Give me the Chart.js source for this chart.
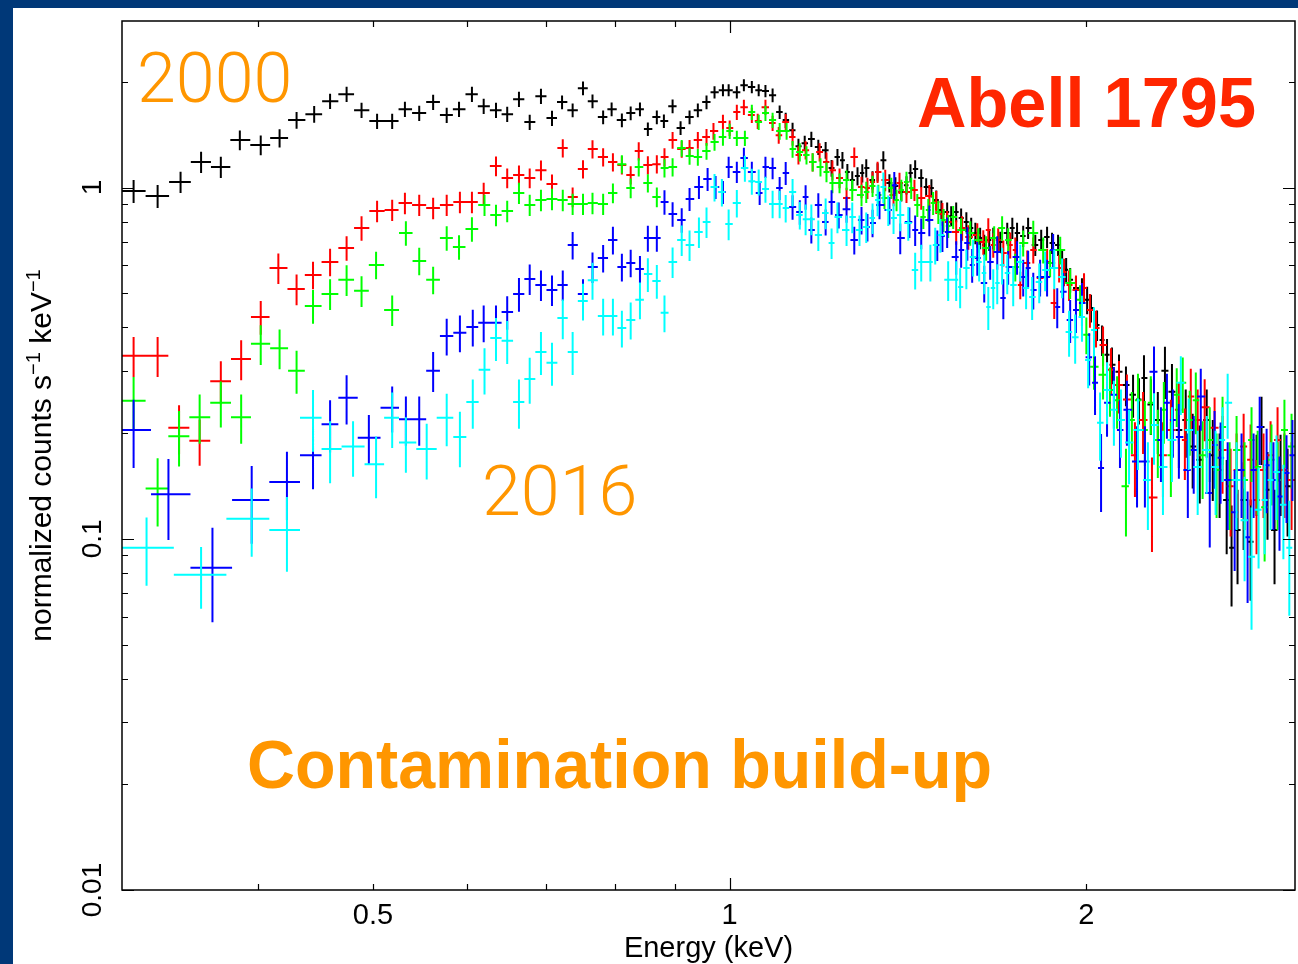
<!DOCTYPE html>
<html>
<head>
<meta charset="utf-8">
<title>Abell 1795 spectra</title>
<style>
  html, body { margin: 0; padding: 0; background: #003878; overflow: hidden; }
  canvas { display: block; }
</style>
<script src="https://cdn.jsdelivr.net/npm/chart.js@4.4.1/dist/chart.umd.min.js"></script>
</head>
<body>
<canvas id="spec" width="1298" height="964"></canvas>
<script>
// Spectra rows: [energy keV, normalized counts s^-1 keV^-1, relative 1-sigma error]
const blackSpec = [
  [0.314, 0.977, 0.075], [0.329, 0.946, 0.075], [0.344, 1.037, 0.07], [0.358, 1.182, 0.07], [0.372, 1.144, 0.07],
  [0.386, 1.365, 0.065], [0.402, 1.321, 0.065], [0.417, 1.383, 0.06], [0.431, 1.556, 0.055], [0.446, 1.618, 0.055],
  [0.460, 1.762, 0.05], [0.475, 1.845, 0.05], [0.489, 1.661, 0.05], [0.504, 1.546, 0.05], [0.519, 1.546, 0.05],
  [0.532, 1.672, 0.05], [0.547, 1.629, 0.05], [0.562, 1.751, 0.05], [0.577, 1.608, 0.05], [0.591, 1.672, 0.05],
  [0.606, 1.845, 0.05], [0.620, 1.705, 0.05], [0.635, 1.661, 0.05], [0.649, 1.618, 0.05], [0.664, 1.785, 0.05],
  [0.678, 1.536, 0.05], [0.693, 1.821, 0.05], [0.708, 1.577, 0.05], [0.722, 1.751, 0.045], [0.737, 1.661, 0.045],
  [0.752, 1.919, 0.045], [0.766, 1.762, 0.045], [0.782, 1.587, 0.045], [0.795, 1.672, 0.045], [0.811, 1.556, 0.045],
  [0.825, 1.629, 0.045], [0.840, 1.672, 0.045], [0.853, 1.467, 0.045], [0.868, 1.587, 0.045], [0.880, 1.546, 0.045],
  [0.895, 1.705, 0.045], [0.909, 1.477, 0.045], [0.925, 1.587, 0.045], [0.940, 1.661, 0.045], [0.956, 1.751, 0.045],
  [0.971, 1.869, 0.04], [0.987, 1.894, 0.04], [0.998, 1.894, 0.04], [1.014, 1.869, 0.04], [1.028, 1.957, 0.04],
  [1.044, 1.932, 0.04], [1.058, 1.894, 0.04], [1.072, 1.882, 0.04], [1.087, 1.833, 0.045], [1.102, 1.640, 0.045],
  [1.115, 1.556, 0.05], [1.130, 1.457, 0.05], [1.143, 1.312, 0.05], [1.157, 1.338, 0.05], [1.172, 1.374, 0.05],
  [1.188, 1.304, 0.05], [1.205, 1.278, 0.055], [1.219, 1.136, 0.055], [1.233, 1.221, 0.055], [1.245, 1.197, 0.055],
  [1.257, 1.107, 0.055], [1.269, 1.050, 0.06], [1.282, 1.078, 0.06], [1.294, 1.100, 0.06], [1.304, 1.136, 0.06],
  [1.320, 1.050, 0.06], [1.333, 1.107, 0.06], [1.348, 1.197, 0.06], [1.364, 1.030, 0.06], [1.380, 1.010, 0.06],
  [1.396, 0.971, 0.06], [1.410, 1.016, 0.06], [1.421, 1.100, 0.06], [1.434, 1.129, 0.06], [1.451, 1.064, 0.06],
  [1.465, 1.003, 0.06], [1.480, 0.997, 0.06], [1.494, 0.921, 0.065], [1.509, 0.863, 0.065], [1.526, 0.852, 0.065],
  [1.538, 0.830, 0.065], [1.553, 0.852, 0.065], [1.568, 0.819, 0.065], [1.584, 0.798, 0.065], [1.599, 0.767, 0.07],
  [1.612, 0.742, 0.07], [1.627, 0.718, 0.07], [1.640, 0.686, 0.07], [1.656, 0.709, 0.07], [1.669, 0.718, 0.07],
  [1.692, 0.700, 0.07], [1.715, 0.742, 0.07], [1.732, 0.767, 0.07], [1.748, 0.742, 0.07], [1.769, 0.728, 0.07],
  [1.786, 0.767, 0.07], [1.811, 0.686, 0.07], [1.832, 0.709, 0.07], [1.853, 0.723, 0.07], [1.871, 0.695, 0.07],
  [1.893, 0.686, 0.07], [1.908, 0.614, 0.08], [1.923, 0.583, 0.08], [1.938, 0.546, 0.08], [1.960, 0.518, 0.08],
  [1.983, 0.511, 0.08], [2.003, 0.479, 0.09], [2.018, 0.454, 0.09], [2.042, 0.406, 0.1], [2.062, 0.368, 0.1],
  [2.082, 0.334, 0.11], [2.102, 0.313, 0.12], [2.131, 0.299, 0.12], [2.160, 0.274, 0.13], [2.190, 0.257, 0.14],
  [2.215, 0.249, 0.15], [2.237, 0.287, 0.16], [2.267, 0.241, 0.18], [2.298, 0.218, 0.2], [2.330, 0.301, 0.17],
  [2.362, 0.262, 0.2], [2.394, 0.204, 0.22], [2.426, 0.218, 0.22], [2.459, 0.183, 0.24], [2.493, 0.168, 0.25],
  [2.527, 0.218, 0.22], [2.557, 0.173, 0.26], [2.591, 0.157, 0.27], [2.627, 0.129, 0.3], [2.652, 0.0943, 0.32],
  [2.683, 0.106, 0.3], [2.715, 0.129, 0.28], [2.752, 0.098, 0.32], [2.784, 0.157, 0.26], [2.811, 0.208, 0.22],
  [2.844, 0.138, 0.28], [2.883, 0.106, 0.3], [2.917, 0.157, 0.26], [2.957, 0.141, 0.28]
];

const redSpec = [
  [0.314, 0.332, 0.13], [0.329, 0.332, 0.13], [0.343, 0.207, 0.16], [0.357, 0.190, 0.15], [0.372, 0.281, 0.14],
  [0.387, 0.325, 0.13], [0.402, 0.428, 0.11], [0.416, 0.590, 0.1], [0.431, 0.514, 0.1], [0.445, 0.564, 0.09],
  [0.460, 0.614, 0.09], [0.475, 0.673, 0.08], [0.489, 0.767, 0.08], [0.504, 0.857, 0.07], [0.519, 0.863, 0.07],
  [0.532, 0.903, 0.07], [0.547, 0.892, 0.07], [0.562, 0.874, 0.07], [0.577, 0.892, 0.07], [0.592, 0.909, 0.07],
  [0.606, 0.909, 0.07], [0.620, 0.965, 0.07], [0.635, 1.151, 0.065], [0.649, 1.064, 0.065], [0.664, 1.085, 0.065],
  [0.678, 1.064, 0.065], [0.693, 1.121, 0.065], [0.708, 1.023, 0.065], [0.723, 1.295, 0.06], [0.737, 0.940, 0.065],
  [0.752, 1.129, 0.06], [0.766, 1.287, 0.06], [0.782, 1.221, 0.06], [0.797, 1.182, 0.06], [0.811, 1.159, 0.06],
  [0.825, 1.085, 0.06], [0.838, 1.270, 0.06], [0.853, 1.159, 0.06], [0.868, 1.166, 0.06], [0.881, 1.221, 0.06],
  [0.895, 1.365, 0.055], [0.911, 1.287, 0.055], [0.925, 1.295, 0.055], [0.940, 1.365, 0.055], [0.956, 1.392, 0.055],
  [0.969, 1.448, 0.055], [0.987, 1.536, 0.05], [1.000, 1.477, 0.05], [1.014, 1.640, 0.05], [1.028, 1.694, 0.05],
  [1.044, 1.608, 0.05], [1.056, 1.546, 0.05], [1.072, 1.694, 0.05], [1.087, 1.526, 0.05], [1.100, 1.410, 0.055],
  [1.115, 1.536, 0.055], [1.130, 1.392, 0.055], [1.143, 1.237, 0.06], [1.159, 1.278, 0.06], [1.175, 1.182, 0.06],
  [1.191, 1.262, 0.06], [1.207, 1.182, 0.065], [1.221, 1.121, 0.065], [1.238, 1.064, 0.065], [1.255, 0.934, 0.07],
  [1.274, 1.221, 0.065], [1.292, 1.003, 0.07], [1.307, 0.997, 0.07], [1.320, 1.037, 0.07], [1.333, 1.107, 0.07],
  [1.353, 1.050, 0.07], [1.375, 0.952, 0.07], [1.391, 1.030, 0.07], [1.410, 0.971, 0.07], [1.432, 0.984, 0.07],
  [1.451, 0.934, 0.075], [1.474, 0.946, 0.075], [1.494, 0.909, 0.075], [1.512, 0.841, 0.075], [1.526, 0.798, 0.075],
  [1.553, 0.747, 0.08], [1.571, 0.767, 0.08], [1.590, 0.723, 0.08], [1.618, 0.733, 0.08], [1.637, 0.700, 0.08],
  [1.653, 0.757, 0.08], [1.669, 0.686, 0.08], [1.685, 0.709, 0.08], [1.702, 0.651, 0.085], [1.725, 0.686, 0.085],
  [1.742, 0.664, 0.085], [1.759, 0.528, 0.09], [1.783, 0.610, 0.085], [1.804, 0.664, 0.085], [1.828, 0.553, 0.09],
  [1.853, 0.614, 0.09], [1.879, 0.469, 0.1], [1.897, 0.590, 0.09], [1.915, 0.575, 0.09], [1.934, 0.528, 0.1],
  [1.960, 0.511, 0.1], [1.991, 0.518, 0.1], [2.014, 0.448, 0.11], [2.038, 0.398, 0.12], [2.066, 0.356, 0.13],
  [2.098, 0.303, 0.15], [2.131, 0.274, 0.17], [2.164, 0.249, 0.18], [2.198, 0.173, 0.24], [2.233, 0.218, 0.2],
  [2.272, 0.131, 0.3], [2.321, 0.173, 0.24], [2.357, 0.204, 0.22], [2.394, 0.233, 0.2], [2.422, 0.191, 0.23],
  [2.450, 0.254, 0.2], [2.483, 0.218, 0.22], [2.517, 0.237, 0.2], [2.566, 0.207, 0.22], [2.606, 0.179, 0.25],
  [2.647, 0.141, 0.28], [2.678, 0.157, 0.27], [2.715, 0.183, 0.24], [2.752, 0.168, 0.26], [2.784, 0.129, 0.3],
  [2.822, 0.157, 0.27], [2.861, 0.173, 0.25], [2.900, 0.191, 0.24], [2.939, 0.157, 0.27], [2.980, 0.147, 0.28]
];

const greenSpec = [
  [0.314, 0.247, 0.17], [0.329, 0.139, 0.22], [0.343, 0.196, 0.18], [0.357, 0.222, 0.16], [0.372, 0.244, 0.15],
  [0.387, 0.222, 0.16], [0.402, 0.359, 0.13], [0.417, 0.349, 0.13], [0.431, 0.301, 0.14], [0.445, 0.460, 0.11],
  [0.460, 0.498, 0.1], [0.475, 0.546, 0.1], [0.489, 0.508, 0.1], [0.503, 0.602, 0.09], [0.519, 0.448, 0.1],
  [0.533, 0.742, 0.08], [0.547, 0.618, 0.09], [0.562, 0.546, 0.09], [0.577, 0.718, 0.08], [0.591, 0.677, 0.08],
  [0.606, 0.762, 0.08], [0.621, 0.892, 0.07], [0.635, 0.835, 0.07], [0.649, 0.857, 0.07], [0.664, 0.965, 0.07],
  [0.678, 0.892, 0.07], [0.693, 0.921, 0.07], [0.708, 0.927, 0.07], [0.723, 0.921, 0.07], [0.737, 0.898, 0.07],
  [0.752, 0.898, 0.07], [0.766, 0.903, 0.07], [0.782, 0.898, 0.07], [0.797, 0.965, 0.065], [0.811, 1.166, 0.06],
  [0.825, 0.997, 0.065], [0.838, 1.144, 0.06], [0.853, 1.030, 0.06], [0.868, 0.940, 0.065], [0.881, 1.136, 0.06],
  [0.895, 1.144, 0.06], [0.911, 1.295, 0.055], [0.925, 1.229, 0.055], [0.940, 1.221, 0.055], [0.956, 1.270, 0.055],
  [0.971, 1.347, 0.055], [0.987, 1.392, 0.055], [1.000, 1.448, 0.05], [1.014, 1.383, 0.05], [1.030, 1.383, 0.05],
  [1.044, 1.640, 0.05], [1.058, 1.536, 0.05], [1.072, 1.629, 0.05], [1.087, 1.556, 0.05], [1.102, 1.448, 0.055],
  [1.117, 1.448, 0.055], [1.130, 1.287, 0.055], [1.146, 1.262, 0.06], [1.161, 1.237, 0.06], [1.175, 1.182, 0.06],
  [1.193, 1.144, 0.06], [1.207, 1.107, 0.065], [1.221, 1.030, 0.065], [1.238, 1.030, 0.065], [1.255, 1.050, 0.065],
  [1.269, 0.984, 0.07], [1.292, 0.952, 0.07], [1.304, 0.971, 0.07], [1.320, 1.010, 0.07], [1.335, 0.952, 0.07],
  [1.351, 0.934, 0.07], [1.369, 0.997, 0.07], [1.383, 0.921, 0.07], [1.396, 0.984, 0.07], [1.410, 1.037, 0.07],
  [1.423, 0.997, 0.07], [1.440, 0.892, 0.075], [1.457, 0.824, 0.075], [1.471, 0.863, 0.075], [1.485, 0.903, 0.075],
  [1.500, 0.852, 0.075], [1.515, 0.808, 0.075], [1.529, 0.777, 0.075], [1.544, 0.824, 0.075], [1.568, 0.757, 0.08],
  [1.596, 0.742, 0.08], [1.621, 0.709, 0.08], [1.646, 0.673, 0.08], [1.672, 0.718, 0.08], [1.698, 0.767, 0.08],
  [1.718, 0.709, 0.08], [1.742, 0.594, 0.09], [1.769, 0.695, 0.085], [1.804, 0.742, 0.085], [1.839, 0.664, 0.085],
  [1.864, 0.610, 0.09], [1.901, 0.664, 0.09], [1.938, 0.535, 0.1], [1.976, 0.479, 0.1], [2.000, 0.381, 0.12],
  [2.030, 0.309, 0.14], [2.066, 0.293, 0.15], [2.094, 0.265, 0.16], [2.123, 0.248, 0.17], [2.160, 0.141, 0.28],
  [2.185, 0.218, 0.2], [2.211, 0.248, 0.19], [2.241, 0.204, 0.21], [2.267, 0.244, 0.19], [2.298, 0.191, 0.22],
  [2.325, 0.233, 0.2], [2.357, 0.173, 0.24], [2.384, 0.257, 0.19], [2.412, 0.278, 0.18], [2.445, 0.218, 0.21],
  [2.474, 0.248, 0.2], [2.507, 0.173, 0.25], [2.542, 0.191, 0.24], [2.576, 0.157, 0.27], [2.606, 0.208, 0.22],
  [2.642, 0.147, 0.28], [2.678, 0.179, 0.25], [2.720, 0.147, 0.28], [2.757, 0.191, 0.24], [2.790, 0.160, 0.27],
  [2.828, 0.123, 0.3], [2.866, 0.168, 0.26], [2.900, 0.147, 0.28], [2.939, 0.204, 0.22], [2.980, 0.183, 0.24]
];

const blueSpec = [
  [0.314, 0.204, 0.22], [0.336, 0.134, 0.26], [0.366, 0.0827, 0.3], [0.395, 0.129, 0.25], [0.423, 0.145, 0.22],
  [0.445, 0.173, 0.2], [0.460, 0.212, 0.17], [0.475, 0.252, 0.16], [0.496, 0.194, 0.16], [0.519, 0.236, 0.15],
  [0.533, 0.219, 0.16], [0.547, 0.219, 0.16], [0.562, 0.301, 0.13], [0.577, 0.378, 0.12], [0.592, 0.386, 0.12],
  [0.607, 0.401, 0.12], [0.620, 0.412, 0.12], [0.635, 0.412, 0.12], [0.649, 0.442, 0.11], [0.664, 0.498, 0.11],
  [0.678, 0.549, 0.1], [0.693, 0.528, 0.1], [0.708, 0.511, 0.1], [0.723, 0.528, 0.1], [0.737, 0.686, 0.09],
  [0.752, 0.498, 0.1], [0.766, 0.594, 0.1], [0.782, 0.630, 0.09], [0.797, 0.709, 0.09], [0.811, 0.594, 0.09],
  [0.825, 0.610, 0.09], [0.840, 0.586, 0.09], [0.853, 0.718, 0.085], [0.868, 0.718, 0.085], [0.881, 0.909, 0.08],
  [0.895, 0.841, 0.08], [0.911, 0.808, 0.08], [0.925, 0.927, 0.075], [0.942, 1.003, 0.075], [0.958, 1.057, 0.075],
  [0.973, 1.003, 0.075], [0.987, 0.971, 0.075], [0.998, 1.144, 0.07], [1.014, 1.107, 0.07], [1.028, 1.213, 0.07],
  [1.044, 1.107, 0.07], [1.060, 0.965, 0.075], [1.072, 1.144, 0.07], [1.087, 1.136, 0.07], [1.102, 0.997, 0.075],
  [1.115, 1.100, 0.075], [1.130, 0.880, 0.08], [1.146, 0.852, 0.08], [1.159, 0.940, 0.08], [1.172, 0.757, 0.085],
  [1.188, 0.892, 0.08], [1.205, 0.798, 0.085], [1.219, 0.909, 0.08], [1.236, 0.835, 0.085], [1.255, 0.868, 0.085],
  [1.274, 0.709, 0.09], [1.292, 0.808, 0.09], [1.307, 0.772, 0.09], [1.320, 0.793, 0.09], [1.338, 0.892, 0.09],
  [1.364, 0.863, 0.09], [1.377, 1.016, 0.09], [1.393, 0.718, 0.1], [1.418, 0.798, 0.1], [1.434, 0.757, 0.1],
  [1.451, 0.742, 0.1], [1.474, 0.808, 0.1], [1.497, 0.686, 0.1], [1.512, 0.728, 0.1], [1.526, 0.747, 0.1],
  [1.553, 0.634, 0.11], [1.568, 0.664, 0.11], [1.587, 0.695, 0.11], [1.602, 0.602, 0.11], [1.618, 0.630, 0.11],
  [1.640, 0.535, 0.12], [1.659, 0.614, 0.11], [1.682, 0.655, 0.11], [1.702, 0.485, 0.13], [1.718, 0.594, 0.11],
  [1.748, 0.634, 0.11], [1.769, 0.556, 0.12], [1.786, 0.590, 0.12], [1.804, 0.511, 0.12], [1.828, 0.556, 0.12],
  [1.853, 0.556, 0.12], [1.875, 0.664, 0.11], [1.890, 0.457, 0.13], [1.912, 0.505, 0.13], [1.938, 0.420, 0.14],
  [1.960, 0.448, 0.14], [1.983, 0.469, 0.14], [2.011, 0.329, 0.17], [2.034, 0.278, 0.19], [2.058, 0.159, 0.25],
  [2.082, 0.244, 0.2], [2.110, 0.257, 0.2], [2.135, 0.204, 0.22], [2.164, 0.233, 0.21], [2.207, 0.166, 0.26],
  [2.241, 0.166, 0.26], [2.281, 0.299, 0.18], [2.312, 0.191, 0.24], [2.339, 0.244, 0.21], [2.366, 0.218, 0.22],
  [2.394, 0.195, 0.24], [2.436, 0.157, 0.27], [2.464, 0.179, 0.25], [2.498, 0.254, 0.2], [2.542, 0.135, 0.3],
  [2.566, 0.185, 0.25], [2.596, 0.170, 0.26], [2.632, 0.147, 0.28], [2.668, 0.119, 0.32], [2.704, 0.157, 0.27],
  [2.736, 0.101, 0.35], [2.768, 0.157, 0.27], [2.801, 0.208, 0.22], [2.839, 0.162, 0.27], [2.877, 0.147, 0.28],
  [2.911, 0.132, 0.3], [2.951, 0.154, 0.28], [2.985, 0.173, 0.26]
];

const cyanSpec = [
  [0.322, 0.0943, 0.22], [0.358, 0.0790, 0.2], [0.395, 0.114, 0.22], [0.423, 0.106, 0.24], [0.445, 0.221, 0.2],
  [0.460, 0.180, 0.2], [0.481, 0.183, 0.18], [0.503, 0.163, 0.2], [0.519, 0.221, 0.18], [0.533, 0.188, 0.18],
  [0.555, 0.180, 0.18], [0.577, 0.221, 0.17], [0.592, 0.195, 0.18], [0.607, 0.245, 0.16], [0.621, 0.303, 0.15],
  [0.635, 0.373, 0.14], [0.649, 0.366, 0.14], [0.664, 0.245, 0.16], [0.678, 0.285, 0.15], [0.693, 0.340, 0.14],
  [0.708, 0.317, 0.14], [0.723, 0.425, 0.13], [0.737, 0.340, 0.14], [0.752, 0.475, 0.12], [0.766, 0.545, 0.12],
  [0.782, 0.431, 0.12], [0.797, 0.431, 0.12], [0.811, 0.398, 0.12], [0.825, 0.420, 0.12], [0.840, 0.479, 0.12],
  [0.853, 0.567, 0.11], [0.868, 0.542, 0.11], [0.881, 0.440, 0.12], [0.895, 0.614, 0.1], [0.911, 0.709, 0.1],
  [0.925, 0.686, 0.1], [0.942, 0.747, 0.1], [0.956, 0.798, 0.1], [0.971, 1.003, 0.09], [0.985, 0.971, 0.09],
  [0.998, 0.787, 0.1], [1.014, 0.903, 0.09], [1.030, 1.136, 0.085], [1.044, 1.043, 0.085], [1.058, 1.037, 0.085],
  [1.072, 0.990, 0.085], [1.087, 0.898, 0.09], [1.102, 0.898, 0.09], [1.115, 0.874, 0.09], [1.130, 0.971, 0.09],
  [1.146, 0.835, 0.09], [1.159, 0.813, 0.1], [1.172, 0.813, 0.1], [1.188, 0.733, 0.1], [1.205, 0.846, 0.1],
  [1.219, 0.695, 0.1], [1.233, 0.824, 0.1], [1.255, 0.757, 0.1], [1.269, 0.824, 0.1], [1.287, 0.757, 0.1],
  [1.304, 0.772, 0.1], [1.320, 0.819, 0.1], [1.333, 0.921, 0.1], [1.348, 1.003, 0.1], [1.361, 0.863, 0.1],
  [1.375, 0.819, 0.1], [1.393, 0.835, 0.1], [1.415, 0.793, 0.11], [1.434, 0.582, 0.12], [1.451, 0.614, 0.12],
  [1.477, 0.614, 0.12], [1.491, 0.686, 0.12], [1.506, 0.733, 0.11], [1.529, 0.546, 0.13], [1.553, 0.546, 0.13],
  [1.565, 0.521, 0.13], [1.584, 0.590, 0.13], [1.605, 0.634, 0.12], [1.624, 0.614, 0.12], [1.640, 0.571, 0.13],
  [1.653, 0.457, 0.14], [1.669, 0.518, 0.13], [1.682, 0.535, 0.13], [1.698, 0.602, 0.12], [1.715, 0.571, 0.13],
  [1.735, 0.528, 0.13], [1.759, 0.614, 0.12], [1.779, 0.518, 0.13], [1.800, 0.488, 0.14], [1.825, 0.538, 0.13],
  [1.846, 0.582, 0.13], [1.879, 0.590, 0.13], [1.908, 0.556, 0.13], [1.934, 0.388, 0.15], [1.957, 0.375, 0.16],
  [1.983, 0.428, 0.15], [2.007, 0.323, 0.17], [2.030, 0.393, 0.16], [2.054, 0.214, 0.22], [2.082, 0.265, 0.2],
  [2.110, 0.233, 0.21], [2.139, 0.218, 0.22], [2.173, 0.188, 0.24], [2.211, 0.204, 0.23], [2.254, 0.147, 0.28],
  [2.281, 0.211, 0.23], [2.321, 0.160, 0.27], [2.362, 0.191, 0.24], [2.403, 0.278, 0.19], [2.440, 0.204, 0.23],
  [2.483, 0.160, 0.27], [2.527, 0.179, 0.25], [2.571, 0.160, 0.27], [2.606, 0.191, 0.24], [2.632, 0.244, 0.21],
  [2.678, 0.147, 0.28], [2.720, 0.113, 0.33], [2.757, 0.0889, 0.38], [2.795, 0.121, 0.32], [2.828, 0.129, 0.3],
  [2.861, 0.147, 0.28], [2.894, 0.155, 0.27], [2.933, 0.125, 0.3], [2.967, 0.0943, 0.36]
];

const seriesNames = ['2000', 'obs 2', 'obs 3', 'obs 4', '2016'];
const seriesColors = ['#000000', '#ff0000', '#00ff00', '#0000ff', '#00ffff'];
const seriesRows = [blackSpec, redSpec, greenSpec, blueSpec, cyanSpec];

// axis range and ticks
const X_MIN = 0.307, X_MAX = 3.0;
const Y_MIN = 0.01, Y_MAX = 2.98;
const xMajorTicks = [1];
const xMinorTicks = [0.4, 0.5, 0.6, 0.7, 0.8, 0.9, 2];
const xLabelValues = [0.5, 1, 2];
const xLabelText = ['0.5', '1', '2'];
const yMajorTicks = [0.01, 0.1, 1];
const yMinorTicks = [0.02, 0.03, 0.04, 0.05, 0.06, 0.07, 0.08, 0.09,
                     0.2, 0.3, 0.4, 0.5, 0.6, 0.7, 0.8, 0.9, 2];
const yLabelValues = [0.01, 0.1, 1];
const yLabelText = ['0.01', '0.1', '1'];

// bins are contiguous: edges sit halfway (in log) between neighbouring centres
function toPoints(rows) {
  const n = rows.length;
  return rows.map((r, i) => {
    const e = r[0];
    const lo = i > 0 ? Math.sqrt(rows[i - 1][0] * e) : e * Math.sqrt(e / rows[1][0]);
    const hi = i < n - 1 ? Math.sqrt(e * rows[i + 1][0]) : e * Math.sqrt(e / rows[n - 2][0]);
    return { x: e, y: r[1], xMin: lo, xMax: hi, yMin: r[1] * (1 - r[2]), yMax: r[1] * (1 + r[2]) };
  });
}

const datasets = seriesRows.map((rows, i) => ({
  label: seriesNames[i],
  data: toPoints(rows),
  borderColor: seriesColors[i],
  backgroundColor: seriesColors[i],
  pointRadius: 0,
  pointHoverRadius: 0,
  showLine: false
}));

const ORANGE = '#ff9600';
const FONT = "'Liberation Sans', Arial, Helvetica, sans-serif";

// white slide panel on the dark blue frame
const panelPlugin = {
  id: 'panel',
  beforeDraw(chart) {
    const ctx = chart.ctx;
    ctx.save();
    ctx.fillStyle = '#003878';
    ctx.fillRect(0, 0, chart.width, chart.height);
    ctx.fillStyle = '#ffffff';
    ctx.fillRect(13, 8, chart.width - 13, chart.height - 8);
    ctx.restore();
  }
};

// energy-bin crosses: horizontal bar = bin width, vertical bar = 1 sigma
const crossPlugin = {
  id: 'crosses',
  afterDatasetsDraw(chart) {
    const { ctx, chartArea: a } = chart;
    const xs = chart.scales.x, ys = chart.scales.y;
    ctx.save();
    ctx.beginPath();
    ctx.rect(a.left, a.top, a.right - a.left, a.bottom - a.top);
    ctx.clip();
    ctx.lineWidth = 2;
    chart.data.datasets.forEach(ds => {
      ctx.strokeStyle = ds.borderColor;
      ctx.beginPath();
      ds.data.forEach(p => {
        const px = xs.getPixelForValue(p.x), py = ys.getPixelForValue(p.y);
        ctx.moveTo(xs.getPixelForValue(p.xMin), py);
        ctx.lineTo(xs.getPixelForValue(p.xMax), py);
        ctx.moveTo(px, ys.getPixelForValue(p.yMin));
        ctx.lineTo(px, ys.getPixelForValue(p.yMax));
      });
      ctx.stroke();
    });
    ctx.restore();
  }
};

// boxed frame with inward ticks, labels, titles and the slide captions
const framePlugin = {
  id: 'frame',
  afterDraw(chart) {
    const { ctx, chartArea: a } = chart;
    const xs = chart.scales.x, ys = chart.scales.y;
    ctx.save();
    ctx.strokeStyle = '#000';
    ctx.lineWidth = 1.5;
    ctx.strokeRect(a.left, a.top, a.right - a.left, a.bottom - a.top);

    ctx.lineWidth = 1.2;
    ctx.beginPath();
    const xTick = (v, len) => {
      const px = Math.round(xs.getPixelForValue(v)) + 0.5;
      ctx.moveTo(px, a.bottom); ctx.lineTo(px, a.bottom - len);
      ctx.moveTo(px, a.top); ctx.lineTo(px, a.top + len);
    };
    const yTick = (v, len) => {
      const py = Math.round(ys.getPixelForValue(v)) + 0.5;
      ctx.moveTo(a.left, py); ctx.lineTo(a.left + len, py);
      ctx.moveTo(a.right, py); ctx.lineTo(a.right - len, py);
    };
    xMajorTicks.forEach(v => xTick(v, 12));
    xMinorTicks.forEach(v => xTick(v, 6));
    yMajorTicks.forEach(v => yTick(v, 12));
    yMinorTicks.forEach(v => yTick(v, 6));
    ctx.stroke();

    ctx.fillStyle = '#000';
    ctx.font = '29px ' + FONT;
    ctx.textAlign = 'center';
    ctx.textBaseline = 'alphabetic';
    xLabelValues.forEach((v, i) => {
      ctx.fillText(xLabelText[i], xs.getPixelForValue(v), 924);
    });
    ctx.fillText('Energy (keV)', (a.left + a.right) / 2, 957);

    yLabelValues.forEach((v, i) => {
      ctx.save();
      ctx.translate(101, ys.getPixelForValue(v));
      ctx.rotate(-Math.PI / 2);
      ctx.font = '28px ' + FONT;
      ctx.fillText(yLabelText[i], 0, 0);
      ctx.restore();
    });

    // y title with superscripts, read bottom to top
    const runs = [['normalized counts s', false], ['\u22121', true], [' keV', false], ['\u22121', true]];
    const mainFont = '30px ' + FONT, supFont = '20px ' + FONT;
    let total = 0;
    runs.forEach(r => { ctx.font = r[1] ? supFont : mainFont; total += ctx.measureText(r[0]).width; });
    ctx.save();
    ctx.translate(51, (a.top + a.bottom) / 2);
    ctx.rotate(-Math.PI / 2);
    ctx.textAlign = 'left';
    let off = -total / 2;
    runs.forEach(r => {
      ctx.font = r[1] ? supFont : mainFont;
      ctx.fillText(r[0], off, r[1] ? -11 : 0);
      off += ctx.measureText(r[0]).width;
    });
    ctx.restore();

    // captions
    ctx.textAlign = 'left';
    ctx.fillStyle = ORANGE;
    ctx.font = "300 70px Roboto, Lato, 'Open Sans', sans-serif";
    ctx.fillText('2000', 137, 102);
    ctx.fillText('2016', 482, 515);
    ctx.font = 'bold 68px ' + FONT;
    ctx.fillText('Contamination build-up', 247, 788, 745);
    ctx.fillStyle = '#ff2600';
    ctx.font = 'bold 70px ' + FONT;
    ctx.fillText('Abell 1795', 917, 127, 339);
    ctx.restore();
  }
};

// keep the exact axis range instead of the rounded tick bounds
function pinRange(lo, hi) {
  return scale => { scale.min = lo; scale.max = hi; };
}

new Chart(document.getElementById('spec').getContext('2d'), {
  type: 'scatter',
  data: { datasets },
  options: {
    responsive: false,
    animation: false,
    events: [],
    layout: { padding: { left: 122, top: 21, right: 3, bottom: 74 } },
    plugins: { legend: { display: false }, tooltip: { enabled: false } },
    scales: {
      x: { type: 'logarithmic', min: X_MIN, max: X_MAX, bounds: 'data', display: false,
           afterBuildTicks: pinRange(X_MIN, X_MAX) },
      y: { type: 'logarithmic', min: Y_MIN, max: Y_MAX, bounds: 'data', display: false,
           afterBuildTicks: pinRange(Y_MIN, Y_MAX) }
    }
  },
  plugins: [panelPlugin, crossPlugin, framePlugin]
});
</script>
</body>
</html>
